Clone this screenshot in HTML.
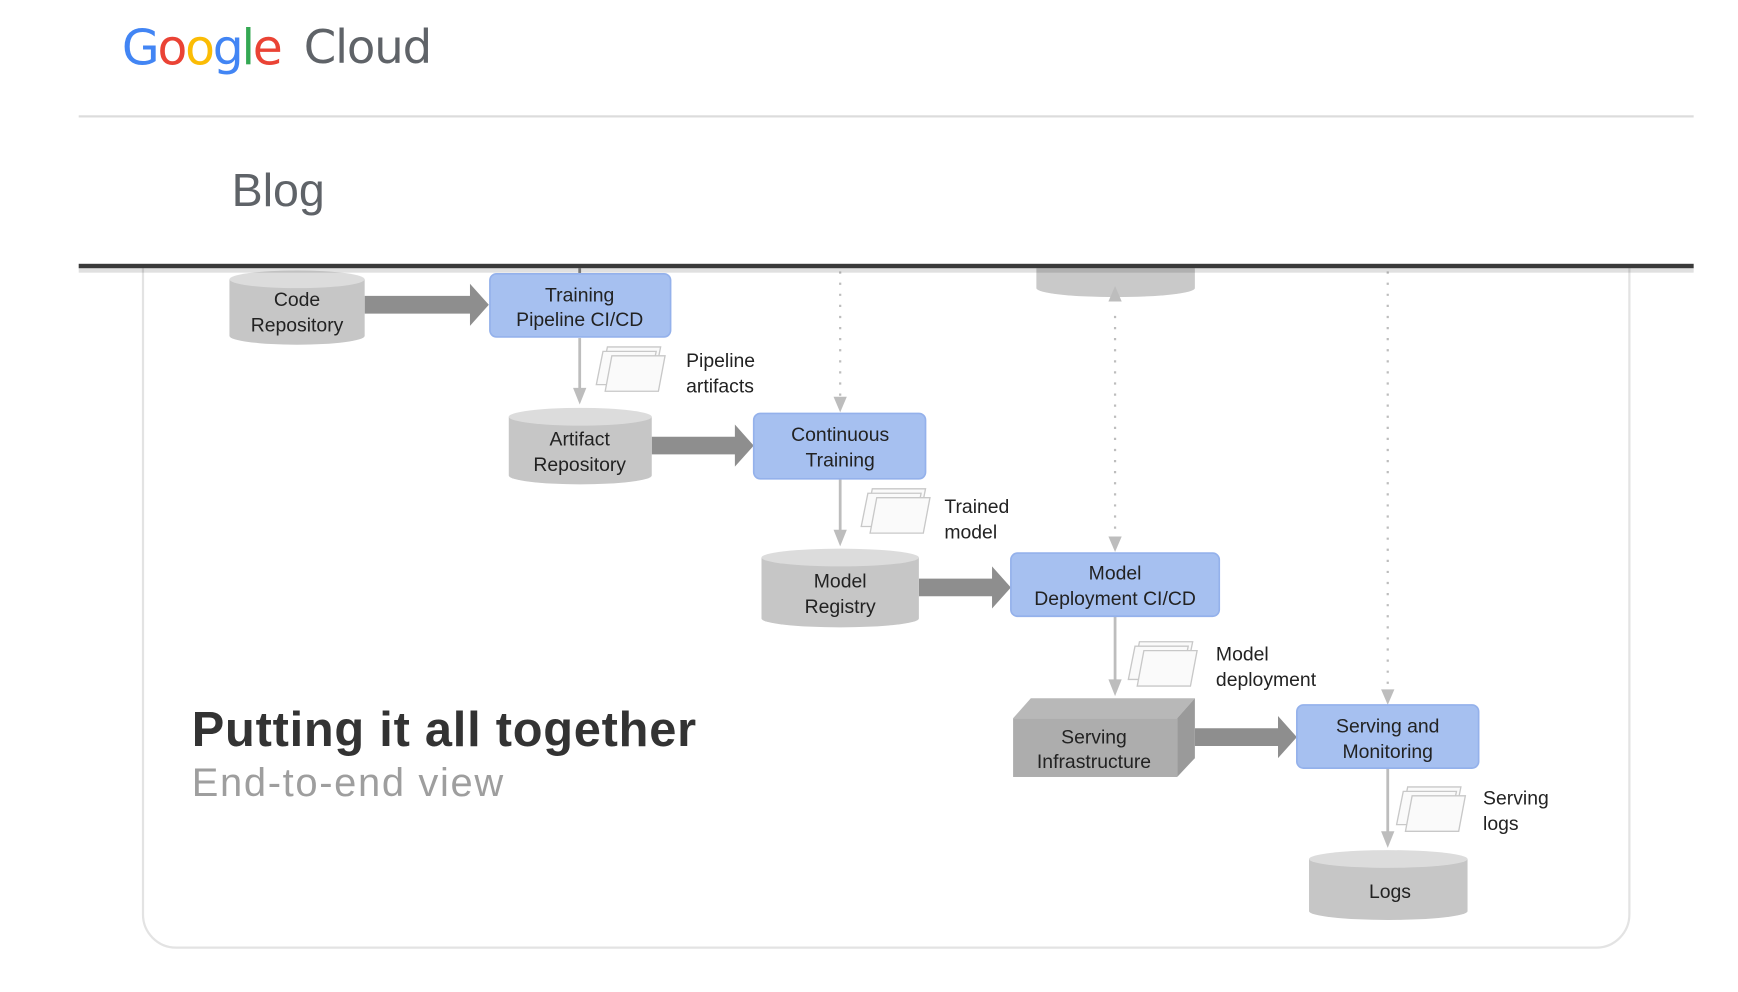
<!DOCTYPE html>
<html><head><meta charset="utf-8"><style>
html,body{margin:0;padding:0;background:#fff;width:1738px;height:992px;overflow:hidden}
svg{display:block}
text{font-family:"Liberation Sans",sans-serif}
</style></head><body>
<svg width="1738" height="992" viewBox="0 0 1568 895" preserveAspectRatio="none" xmlns="http://www.w3.org/2000/svg">
<defs>
<g id="doc">
<path d="M8 0 h48 l-6 30 h-48 z" fill="#fafafa" stroke="#c8c8c8" stroke-width="1.2"/>
<path d="M4 4 h48 l-6 30 h-48 z" fill="#fafafa" stroke="#c8c8c8" stroke-width="1.2"/>
<path d="M12 8 h48 l-6 32 h-48 z" fill="#fafafa" stroke="#c8c8c8" stroke-width="1.2"/>
</g>
</defs>
<rect width="1568" height="895" fill="#fff"/>
<!-- header -->
<text x="110" y="58" font-size="44" style="font-family:'DejaVu Sans','Liberation Sans',sans-serif" letter-spacing="-2"><tspan fill="#4285f4">G</tspan><tspan fill="#ea4335">o</tspan><tspan fill="#fbbc05">o</tspan><tspan fill="#4285f4">g</tspan><tspan fill="#34a853">l</tspan><tspan fill="#ea4335">e</tspan></text>
<text x="274" y="57" font-size="42" fill="#5f6368" letter-spacing="-1" style="font-family:'DejaVu Sans','Liberation Sans',sans-serif">Cloud</text>
<rect x="71" y="104" width="1457" height="2" fill="#dcdcdc"/>
<text x="209" y="186" font-size="42" fill="#5f6368">Blog</text>
<!-- card -->
<path d="M129 240 V825 a30 30 0 0 0 30 30 H1440 a30 30 0 0 0 30 -30 V240" fill="none" stroke="#e3e3e3" stroke-width="2"/>
<path d="M935 242 V260 a71 8 0 0 0 143 0 V242 z" fill="#c9c9c9"/>
<g stroke="#bdbdbd" stroke-width="2" stroke-dasharray="2 8" fill="none">
<line x1="758" y1="245" x2="758" y2="362"/>
<line x1="1006" y1="285" x2="1006" y2="485"/>
<line x1="1252" y1="245" x2="1252" y2="624"/>
</g>
<g fill="#bdbdbd">
<path d="M752 358 h12 l-6 14 z"/>
<path d="M1000 272 h12 l-6 -14 z"/>
<path d="M1000 484 h12 l-6 14 z"/>
<path d="M1246 622 h12 l-6 14 z"/>
</g>
<g stroke="#bdbdbd" stroke-width="2.5">
<line x1="523" y1="242" x2="523" y2="247" stroke="#888"/>
<line x1="523" y1="305" x2="523" y2="352"/>
<line x1="758" y1="432" x2="758" y2="480"/>
<line x1="1006" y1="556" x2="1006" y2="615"/>
<line x1="1252" y1="693" x2="1252" y2="752"/>
</g>
<g fill="#bdbdbd">
<path d="M517 350 h12 l-6 15 z"/>
<path d="M752 478 h12 l-6 15 z"/>
<path d="M1000 613 h12 l-6 15 z"/>
<path d="M1246 750 h12 l-6 15 z"/>
</g>
<g fill="#8e8e8e">
<path d="M329 267 h95 v-11 l17 19 l-17 19 v-11 h-95 z"/>
<path d="M588 394 h75 v-11 l17 19 l-17 19 v-11 h-75 z"/>
<path d="M829 522 h66 v-11 l17 19 l-17 19 v-11 h-66 z"/>
<path d="M1078 657 h75 v-11 l17 19 l-17 19 v-11 h-75 z"/>
</g>
<g>
<path d="M207 252 V303 a61 8 0 0 0 122 0 V252 z" fill="#c6c6c6"/>
<ellipse cx="268" cy="252" rx="61" ry="8" fill="#dcdcdc"/>
<path d="M459 376 V429 a64.5 8 0 0 0 129 0 V376 z" fill="#c6c6c6"/>
<ellipse cx="523.5" cy="376" rx="64.5" ry="8" fill="#dcdcdc"/>
<path d="M687 503 V558 a71 8 0 0 0 142 0 V503 z" fill="#c6c6c6"/>
<ellipse cx="758" cy="503" rx="71" ry="8" fill="#dcdcdc"/>
<path d="M1181 775 V822 a71.5 8 0 0 0 143 0 V775 z" fill="#c6c6c6"/>
<ellipse cx="1252.5" cy="775" rx="71.5" ry="8" fill="#dcdcdc"/>
</g>
<path d="M914 648 L930 630 H1078 L1062 648 z" fill="#b8b8b8"/>
<path d="M1062 648 L1078 630 V684 L1062 701 z" fill="#9a9a9a"/>
<rect x="914" y="648" width="148" height="53" fill="#adadad"/>
<g fill="#a6c0f0" stroke="#94b1eb" stroke-width="1.5">
<rect x="442" y="247" width="163" height="57" rx="6"/>
<rect x="680" y="373" width="155" height="59" rx="6"/>
<rect x="912" y="499" width="188" height="57" rx="6"/>
<rect x="1170" y="636" width="164" height="57" rx="6"/>
</g>
<use href="#doc" x="540" y="313"/>
<use href="#doc" x="779" y="441"/>
<use href="#doc" x="1020" y="579"/>
<use href="#doc" x="1262" y="710"/>
<g font-size="17.5" fill="#222" text-anchor="middle">
<text x="268" y="276">Code</text><text x="268" y="299">Repository</text>
<text x="523" y="272">Training</text><text x="523" y="294">Pipeline CI/CD</text>
<text x="523" y="402">Artifact</text><text x="523" y="425">Repository</text>
<text x="758" y="398">Continuous</text><text x="758" y="421">Training</text>
<text x="758" y="530">Model</text><text x="758" y="553">Registry</text>
<text x="1006" y="523">Model</text><text x="1006" y="546">Deployment CI/CD</text>
<text x="987" y="671">Serving</text><text x="987" y="693">Infrastructure</text>
<text x="1252" y="661">Serving and</text><text x="1252" y="684">Monitoring</text>
<text x="1254" y="810">Logs</text>
</g>
<g font-size="17.5" fill="#222">
<text x="619" y="331">Pipeline</text><text x="619" y="354">artifacts</text>
<text x="852" y="463">Trained</text><text x="852" y="486">model</text>
<text x="1097" y="596">Model</text><text x="1097" y="619">deployment</text>
<text x="1338" y="726">Serving</text><text x="1338" y="749">logs</text>
</g>
<text x="173" y="673" font-size="44" font-weight="bold" fill="#333" textLength="455">Putting it all together</text>
<text x="173" y="718" font-size="36" fill="#9e9e9e" textLength="281">End-to-end view</text>
<rect x="71" y="242" width="1457" height="4" fill="#000" opacity="0.12"/>
<rect x="71" y="238" width="1457" height="4" fill="#3a3a3a"/>
</svg>
</body></html>
